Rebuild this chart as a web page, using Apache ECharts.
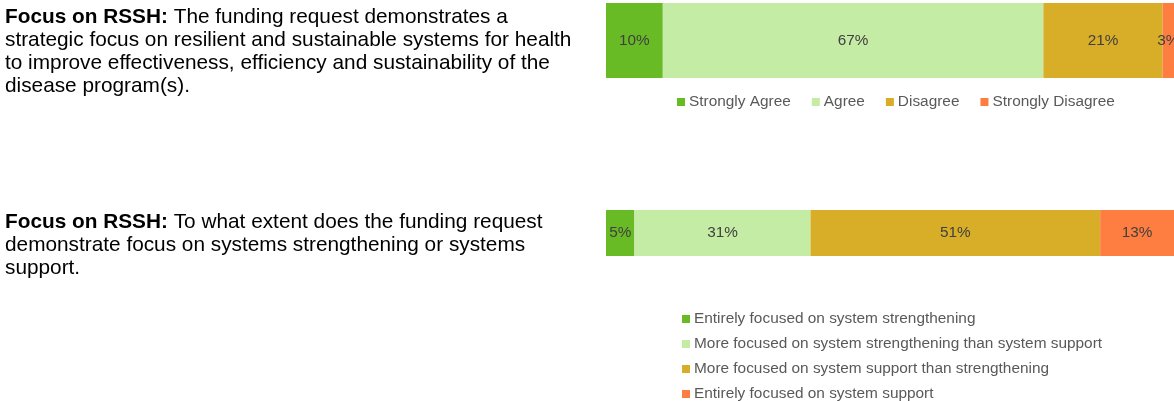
<!DOCTYPE html>
<html>
<head>
<meta charset="utf-8">
<script src="https://cdn.jsdelivr.net/npm/echarts@6/dist/echarts.min.js"></script>
<style>
  html, body { margin: 0; padding: 0; background: #ffffff; }
  #chart { width: 1174px; height: 401px; }
</style>
</head>
<body>
<div id="chart"></div>
<script>
// Question texts shown to the left of each bar
const questionLead = 'Focus on RSSH:';
const questionAgree = [
  ' The funding request demonstrates a',
  'strategic focus on resilient and sustainable systems for health',
  'to improve effectiveness, efficiency and sustainability of the',
  'disease program(s).'
];
const questionFocus = [
  ' To what extent does the funding request',
  'demonstrate focus on systems strengthening or systems',
  'support.'
];

// Response categories and shares (%)
const agreeCategories = ['Strongly Agree', 'Agree', 'Disagree', 'Strongly Disagree'];
const agreeValues = [10, 67, 21, 3];

const focusCategories = [
  'Entirely focused on system strengthening',
  'More focused on system strengthening than system support',
  'More focused on system support than strengthening',
  'Entirely focused on system support'
];
const focusValues = [5, 31, 51, 13];

const segmentColors = ['#69bb26', '#c5eca5', '#d8ae28', '#fd7e40'];

const FONT = '"Liberation Sans", Arial, Helvetica, sans-serif';

function stackSeries(names, values, axisIndex, stackId) {
  return names.map((name, i) => ({
    name: name,
    type: 'bar',
    stack: stackId,
    xAxisIndex: axisIndex,
    yAxisIndex: axisIndex,
    barWidth: '100%',
    itemStyle: { color: segmentColors[i] },
    label: {
      show: true,
      position: 'inside',
      formatter: '{c}%',
      color: '#404040',
      fontFamily: FONT,
      fontSize: 15.3
    },
    emphasis: { disabled: true },
    data: [values[i]]
  }));
}

function questionText(lines, top) {
  return {
    type: 'text',
    left: 5,
    top: top,
    style: {
      text: '{b|' + questionLead + '}' + lines.join('\n'),
      rich: {
        b: { fontWeight: 'bold', fontSize: 20.8, fontFamily: FONT, fill: '#000', lineHeight: 23 }
      },
      fontSize: 20.8,
      lineHeight: 23,
      fontFamily: FONT,
      fill: '#000'
    }
  };
}

const legendText = { color: '#595959', fontSize: 15.4, fontFamily: FONT, lineHeight: 16, padding: [0, 0, 0, -1] };

const chart = echarts.init(document.getElementById('chart'), null, { renderer: 'canvas' });

chart.setOption({
  animation: false,
  backgroundColor: '#ffffff',
  grid: [
    { left: 606, top: 3, width: 570, height: 75 },
    { left: 606, top: 210, width: 570, height: 46 }
  ],
  xAxis: [
    { type: 'value', gridIndex: 0, min: 0, max: 100, show: false },
    { type: 'value', gridIndex: 1, min: 0, max: 100, show: false }
  ],
  yAxis: [
    { type: 'category', gridIndex: 0, data: ['agree'], show: false },
    { type: 'category', gridIndex: 1, data: ['focus'], show: false }
  ],
  legend: [
    {
      data: agreeCategories,
      left: 677,
      top: 94,
      padding: 0,
      orient: 'horizontal',
      icon: 'rect',
      itemWidth: 8,
      itemHeight: 8,
      itemGap: 21,
      selectedMode: false,
      textStyle: legendText
    },
    {
      data: focusCategories,
      left: 682,
      top: 311,
      height: 100,
      padding: 0,
      orient: 'vertical',
      icon: 'rect',
      itemWidth: 8,
      itemHeight: 8,
      itemGap: 9,
      selectedMode: false,
      textStyle: legendText
    }
  ],
  graphic: [
    questionText(questionAgree, 6),
    questionText(questionFocus, 211)
  ],
  series: [
    ...stackSeries(agreeCategories, agreeValues, 0, 'agree'),
    ...stackSeries(focusCategories, focusValues, 1, 'focus')
  ]
});
</script>
</body>
</html>
